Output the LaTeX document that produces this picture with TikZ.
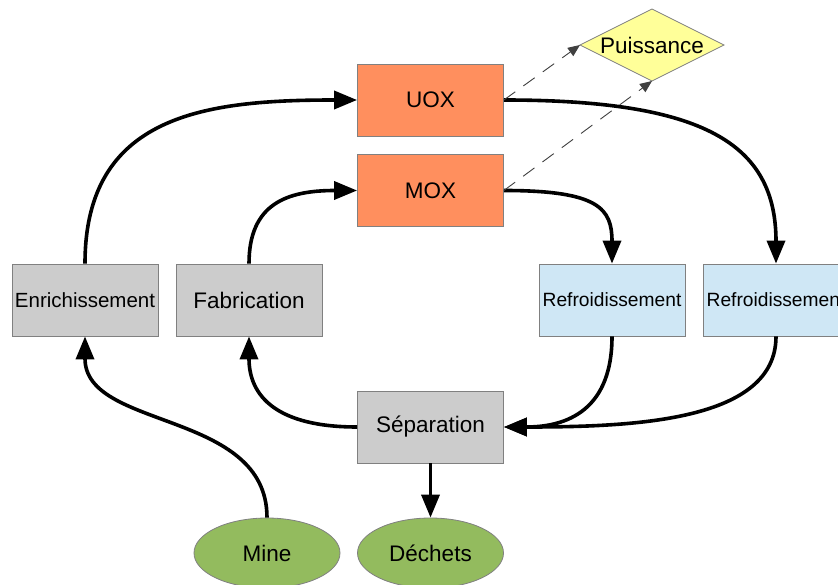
\documentclass[tikz,border=0pt]{standalone}
\usepackage{fontspec}
\setmainfont{Liberation Sans}
\usetikzlibrary{shapes.geometric,arrows.meta}
\definecolor{uoxorange}{HTML}{FF8F5E}
\definecolor{boxgray}{HTML}{CCCCCC}
\definecolor{coolblue}{HTML}{CFE7F5}
\definecolor{puisyellow}{HTML}{FFFF99}
\definecolor{minegreen}{HTML}{93BB5E}
\definecolor{edgegray}{HTML}{808080}
\tikzset{
  box/.style={rectangle, draw=edgegray, line width=0.8pt, minimum width=146pt, minimum height=72pt, inner sep=0pt, font=\fontsize{22.5}{27}\selectfont},
  fuel/.style={box, fill=uoxorange},
  proc/.style={box, fill=boxgray},
  cool/.style={box, fill=coolblue, font=\fontsize{19.2}{23}\selectfont},
  res/.style={ellipse, draw=edgegray, line width=0.8pt, fill=minegreen, minimum width=146pt, minimum height=70pt, inner sep=0pt, font=\fontsize{22.5}{27}\selectfont},
  flow/.style={line width=3.6pt, -{Triangle[length=23pt,width=18pt]}},
  power/.style={line width=0.9pt, dash pattern=on 14pt off 10pt, draw=black!75, -{Triangle[length=12pt,width=10pt]}},
  diamondfill/.style={draw=edgegray, line width=0.8pt, fill=puisyellow},
}
\begin{document}
\begin{tikzpicture}[x=1pt,y=-1pt]
\clip (0,0) rectangle (838,585);
\fill[white] (0,0) rectangle (838,585);
\node[fuel] (uox) at (430.5,100) {UOX};
\node[fuel] (mox) at (430.5,190.5) {MOX};
\coordinate (puiN) at (652,9);
\coordinate (puiE) at (724,45);
\coordinate (puiS) at (652,81);
\coordinate (puiW) at (580,45);
\draw[diamondfill] (puiN) -- (puiE) -- (puiS) -- (puiW) -- cycle;
\node[font=\fontsize{22.5}{27}\selectfont, inner sep=0pt] (pui) at (652,45) {Puissance};
\node[proc, font=\fontsize{20.5}{24}\selectfont] (enr) at (85,300) {Enrichissement};
\node[proc] (fab) at (249,300) {Fabrication};
\node[cool] (ref1) at (612,300) {Refroidissement};
\node[cool] (ref2) at (776,300) {Refroidissement};
\node[proc] (sep) at (430.5,427) {Séparation};
\node[res] (mine) at (267,553) {Mine};
\node[res] (dech) at (430.5,553) {Déchets};

\draw[flow] (enr.north) .. controls +(0,-150) and +(-150,0) .. (uox.west);
\draw[flow] (fab.north) .. controls +(0,-60) and +(-70,0) .. (mox.west);
\draw[flow] (uox.east) .. controls +(200,0) and +(0,-120) .. (ref2.north);
\draw[flow] (mox.east) .. controls +(95,0) and +(0,-55) .. (ref1.north);
\draw[flow] (ref1.south) .. controls +(0,80) and +(55,0) .. (sep.east);
\draw[flow] (ref2.south) .. controls +(0,85) and +(130,0) .. (sep.east);
\draw[flow] (sep.west) .. controls +(-80,0) and +(0,60) .. (fab.south);
\draw[flow] (mine.north) .. controls +(0,-108) and +(0,94) .. (enr.south);
\draw[flow] (sep.south) -- (dech.north);

\draw[power] (uox.east) -- (puiW);
\draw[power] (mox.east) -- (puiS);
\end{tikzpicture}
\end{document}
